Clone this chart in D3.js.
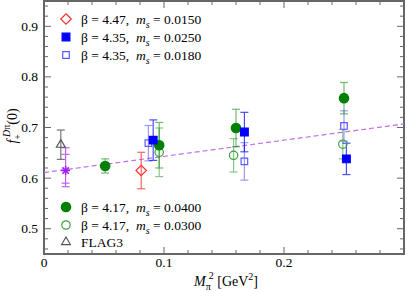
<!DOCTYPE html>
<html>
<head>
<meta charset="utf-8">
<script src="https://cdn.jsdelivr.net/npm/d3@7"></script>
<style>
  body { margin: 0; background: #fff; }
  text { font-family: "Liberation Serif", "DejaVu Serif", serif; white-space: pre; }
</style>
</head>
<body>
<svg id="chart" width="407" height="292"></svg>
<script>
// [M_pi^2, f+(0), error]
const b447_ms0150 = [[0.081, 0.615, 0.036]];
const b435_ms0250 = [[0.091, 0.675, 0.040], [0.167, 0.691, 0.039], [0.252, 0.638, 0.031]];
const b435_ms0180 = [[0.087, 0.669, 0.035], [0.167, 0.633, 0.037], [0.250, 0.703, 0.030]];
const b417_ms0400 = [[0.051, 0.624, 0.014], [0.096, 0.665, 0.045], [0.160, 0.699, 0.037], [0.250, 0.758, 0.031]];
const b417_ms0300 = [[0.096, 0.651, 0.048], [0.158, 0.645, 0.033], [0.249, 0.667, 0.029]];
const flag3 = [[0.014, 0.666, 0.029]];
// physical point: x, y, inner up/down, outer up/down
const physical = [[0.018, 0.615, 0.032, 0.025, 0.045, 0.032]];
const fitLine = [[0, 0.611], [0.3, 0.707]];

const xTickLabels = [0, 0.1, 0.2];
const yTickLabels = [0.5, 0.6, 0.7, 0.8, 0.9];

const svg = d3.select('#chart');
const plotLeft = 44, plotRight = 404, plotTop = 1, plotBottom = 254;

const x = d3.scaleLinear().domain([0, 0.3]).range([plotLeft, plotRight]);
const y = d3.scaleLinear().domain([0.45, 0.95]).range([plotBottom, plotTop]);

const frameColor = '#666';

// ticks on all four sides, pointing inward
const xMinor = d3.range(0, 0.3001, 0.02);
const yMinor = d3.range(0.46, 0.9501, 0.02);
const isMajor = v => Math.abs(v * 10 - Math.round(v * 10)) < 1e-6;

const ticks = svg.append('g').attr('stroke', frameColor).attr('stroke-width', 1);
xMinor.forEach(v => {
  const len = isMajor(v) ? 7 : 4;
  ticks.append('line').attr('x1', x(v)).attr('x2', x(v)).attr('y1', plotBottom).attr('y2', plotBottom - len);
  ticks.append('line').attr('x1', x(v)).attr('x2', x(v)).attr('y1', plotTop).attr('y2', plotTop + len);
});
yMinor.forEach(v => {
  const len = isMajor(v) ? 7 : 4;
  ticks.append('line').attr('x1', plotLeft).attr('x2', plotLeft + len).attr('y1', y(v)).attr('y2', y(v));
  ticks.append('line').attr('x1', plotRight).attr('x2', plotRight - len).attr('y1', y(v)).attr('y2', y(v));
});

svg.append('rect')
  .attr('x', plotLeft).attr('y', plotTop)
  .attr('width', plotRight - plotLeft).attr('height', plotBottom - plotTop)
  .attr('fill', 'none').attr('stroke', frameColor).attr('stroke-width', 2);

svg.append('g').selectAll('text').data(xTickLabels).join('text')
  .attr('x', d => x(d)).attr('y', 267)
  .attr('text-anchor', 'middle').attr('font-size', 13.5)
  .text(d => d);

svg.append('g').selectAll('text').data(yTickLabels).join('text')
  .attr('x', 38).attr('y', d => y(d) + 4.5)
  .attr('text-anchor', 'end').attr('font-size', 13.5)
  .text(d => d3.format('.1f')(d));

// axis titles
const xt = svg.append('text').attr('x', 226).attr('y', 286).attr('text-anchor', 'middle').attr('font-size', 14);
xt.append('tspan').attr('font-style', 'italic').text('M');
xt.append('tspan').attr('font-size', 10).attr('dy', 4).text('π');
xt.append('tspan').attr('font-size', 10).attr('dy', -11).attr('dx', -2).text('2');
xt.append('tspan').attr('dy', 7).text(' [GeV');
xt.append('tspan').attr('font-size', 10).attr('dy', -6).text('2');
xt.append('tspan').attr('dy', 6).text(']');

const yt = svg.append('text')
  .attr('transform', 'translate(17,126) rotate(-90)')
  .attr('text-anchor', 'middle').attr('font-size', 14);
yt.append('tspan').attr('font-style', 'italic').text('f');
yt.append('tspan').attr('font-size', 10).attr('dy', 4).text('+');
yt.append('tspan').attr('font-size', 10).attr('dy', -11).attr('dx', -3).attr('font-style', 'italic').text('D');
yt.append('tspan').attr('font-size', 10).text('π');
yt.append('tspan').attr('dy', 7).text('(0)');

// fit line
svg.append('path')
  .datum(fitLine)
  .attr('d', d3.line().x(d => x(d[0])).y(d => y(d[1])))
  .attr('fill', 'none').attr('stroke', '#c070e8').attr('stroke-width', 1.2)
  .attr('stroke-dasharray', '5,3');

const plot = svg.append('g');

function errorBars(data, color, opacity) {
  const g = plot.append('g').attr('stroke', color).attr('stroke-width', 1.2).attr('opacity', opacity);
  data.forEach(d => {
    const cx = x(d[0]);
    g.append('line').attr('x1', cx).attr('x2', cx).attr('y1', y(d[1] - d[2])).attr('y2', y(d[1] + d[2]));
    [d[1] - d[2], d[1] + d[2]].forEach(v => {
      g.append('line').attr('x1', cx - 4).attr('x2', cx + 4).attr('y1', y(v)).attr('y2', y(v));
    });
  });
}

function markers(data, shape, size, color, filled) {
  plot.append('g').selectAll('path').data(data).join('path')
    .attr('transform', d => `translate(${x(d[0])},${y(d[1])})`)
    .attr('d', d3.symbol().type(shape).size(size))
    .attr('fill', filled ? color : 'none')
    .attr('stroke', color).attr('stroke-width', 1.2);
}

const red = '#ff3030', blue = '#0000ff', lightBlue = '#5a5aff', green = '#008000', lightGreen = '#3aa03a', grey = '#555';
const purple = '#a020f0';

errorBars(flag3, grey, 0.8);
errorBars(b447_ms0150, red, 0.75);
errorBars(b417_ms0300, lightGreen, 0.6);
errorBars(b435_ms0180, lightBlue, 0.6);
errorBars(b417_ms0400, green, 0.55);
errorBars(b435_ms0250, blue, 0.7);

// physical point with two error ranges
const pg = plot.append('g').attr('stroke', purple).attr('stroke-width', 1.2).attr('opacity', 0.7);
physical.forEach(d => {
  const cx = x(d[0]);
  pg.append('line').attr('x1', cx).attr('x2', cx).attr('y1', y(d[1] - d[5])).attr('y2', y(d[1] + d[4]));
  [d[1] - d[3], d[1] + d[2], d[1] - d[5], d[1] + d[4]].forEach(v => {
    pg.append('line').attr('x1', cx - 4).attr('x2', cx + 4).attr('y1', y(v)).attr('y2', y(v));
  });
});

markers(flag3, d3.symbolTriangle2, 55, grey, false);
markers(b447_ms0150, d3.symbolDiamond2, 70, red, false);
markers(b417_ms0300, d3.symbolCircle, 55, lightGreen, false);
markers(b435_ms0180, d3.symbolSquare2, 55, lightBlue, false);
markers(b417_ms0400, d3.symbolCircle, 70, green, true);
markers(b435_ms0250, d3.symbolSquare, 60, blue, true);

// 8-spoke asterisk for the physical point
plot.append('g').selectAll('g').data(physical).join('g')
  .attr('transform', d => `translate(${x(d[0])},${y(d[1])})`)
  .attr('stroke', purple).attr('stroke-width', 1.6)
  .each(function () {
    const g = d3.select(this);
    d3.range(4).forEach(i => {
      const a = i * Math.PI / 4, r = 4.5;
      g.append('line')
        .attr('x1', -r * Math.cos(a)).attr('y1', -r * Math.sin(a))
        .attr('x2', r * Math.cos(a)).attr('y2', r * Math.sin(a));
    });
  });

// legends
const legendRows = [
  { y: 19, shape: d3.symbolDiamond2, size: 70, color: red, filled: false, beta: '4.47', ms: '0.0150' },
  { y: 37, shape: d3.symbolSquare, size: 60, color: blue, filled: true, beta: '4.35', ms: '0.0250' },
  { y: 55, shape: d3.symbolSquare2, size: 55, color: lightBlue, filled: false, beta: '4.35', ms: '0.0180' },
  { y: 207, shape: d3.symbolCircle, size: 70, color: green, filled: true, beta: '4.17', ms: '0.0400' },
  { y: 225, shape: d3.symbolCircle, size: 55, color: lightGreen, filled: false, beta: '4.17', ms: '0.0300' },
  { y: 242, shape: d3.symbolTriangle2, size: 55, color: grey, filled: false, label: 'FLAG3' }
];

const lg = svg.append('g');
legendRows.forEach(r => {
  lg.append('path')
    .attr('transform', `translate(66,${r.y})`)
    .attr('d', d3.symbol().type(r.shape).size(r.size)())
    .attr('fill', r.filled ? r.color : 'none')
    .attr('stroke', r.color).attr('stroke-width', 1.2);
  const t = lg.append('text').attr('x', 81).attr('y', r.y + 4.5).attr('font-size', 13.5);
  if (r.label) {
    t.text(r.label);
  } else {
    t.append('tspan').text(`β = ${r.beta},  `);
    t.append('tspan').attr('font-style', 'italic').text('m');
    t.append('tspan').attr('font-style', 'italic').attr('font-size', 10).attr('dy', 4).text('s');
    t.append('tspan').attr('dy', -4).text(` = ${r.ms}`);
  }
});
</script>
</body>
</html>
